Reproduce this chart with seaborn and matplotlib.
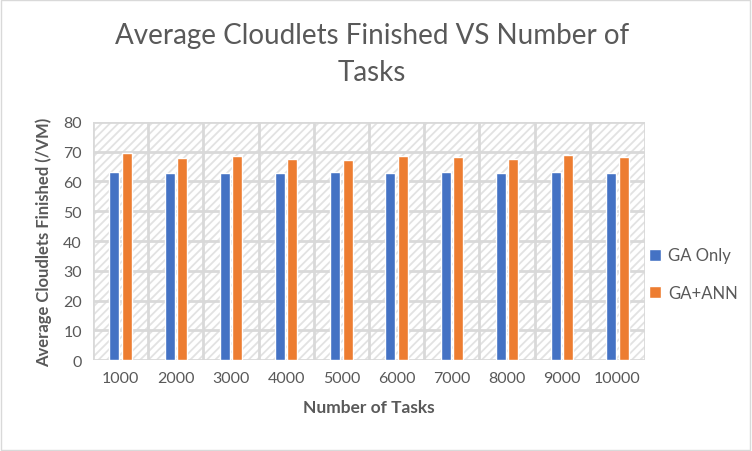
import pandas as pd
import matplotlib.pyplot as plt
import seaborn as sns
from matplotlib.patches import Rectangle

# values
tasks = ['1000', '2000', '3000', '4000', '5000', '6000', '7000', '8000', '9000', '10000']
ga_only = [63.2, 62.8, 62.8, 62.8, 63.2, 62.8, 63.2, 62.8, 63.2, 62.8]
ga_ann = [69.6, 67.9, 68.7, 67.5, 67.2, 68.7, 68.2, 67.5, 69.0, 68.2]
series = ['GA Only', 'GA+ANN']

data = pd.DataFrame({
    'Number of Tasks': tasks * 2,
    'value': ga_only + ga_ann,
    'series': [series[0]] * len(tasks) + [series[1]] * len(tasks),
})

sns.set_style('white')
plt.rcParams['font.family'] = ['Lato', 'DejaVu Sans']
plt.rcParams['hatch.color'] = '#e2e2e2'
plt.rcParams['hatch.linewidth'] = 1.3

grey = '#595959'
grid = '#d9d9d9'

fig = plt.figure(figsize=(7.52, 4.52), dpi=100)
ax = fig.add_axes([0.1237, 0.2013, 0.734, 0.5266])

# hatched plot area background
ax.add_patch(Rectangle((0, 0), 1, 1, transform=ax.transAxes, facecolor='white',
                       edgecolor='#e2e2e2', hatch='////', linewidth=0, zorder=0))

sns.barplot(data=data, x='Number of Tasks', y='value', hue='series',
            palette=['#4472c4', '#ed7d31'], width=0.45, gap=0.2,
            saturation=1, ax=ax, zorder=3)

ax.set_ylim(0, 80)
ax.set_xlim(-0.5, len(tasks) - 0.5)
ax.set_yticks(range(0, 81, 10))
ax.set_xticks(range(len(tasks)), minor=False)
ax.set_xticks([i + 0.5 for i in range(-1, len(tasks))], minor=True)
ax.grid(True, axis='y', which='major', color=grid, linewidth=2, zorder=1)
ax.grid(True, axis='x', which='minor', color=grid, linewidth=2, zorder=1)
ax.grid(False, axis='x', which='major')
ax.set_axisbelow(True)
for s in ax.spines.values():
    s.set_visible(False)
ax.tick_params(axis='both', which='both', length=0, labelsize=11.5, colors=grey, pad=8)

ax.set_xlabel('Number of Tasks', fontsize=12.5, fontweight='bold', color=grey, labelpad=10)
ax.set_ylabel('Average Cloudlets Finished (/VM)', fontsize=12, fontweight='bold',
              color=grey, labelpad=8)

fig.text(0.495, 0.95, 'Average Cloudlets Finished VS Number of\nTasks', ha='center',
         va='top', fontsize=20, color=grey, linespacing=1.55)

handles, labels = ax.get_legend_handles_labels()
ax.legend(handles, labels, loc='center left', bbox_to_anchor=(0.98, 0.36),
          frameon=False, fontsize=12, labelcolor=grey, handlelength=0.75,
          handleheight=0.75, handletextpad=0.4, labelspacing=1.3)

# outer chart border
fig.patches.append(Rectangle((0.001, 0.002), 0.997, 0.996, transform=fig.transFigure,
                             fill=False, edgecolor='#d9d9d9', linewidth=1))

fig.savefig('out.png', dpi=100)
